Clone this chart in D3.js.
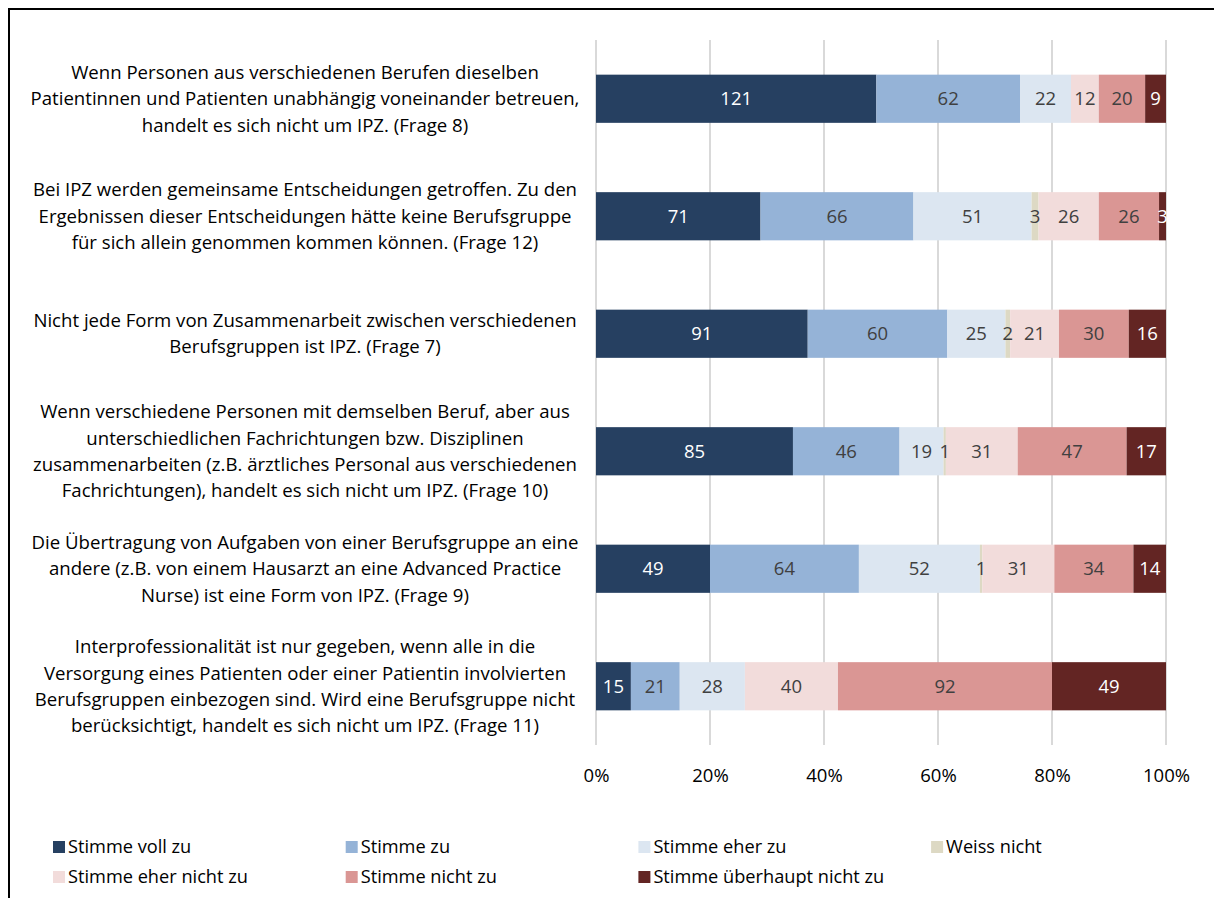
<!DOCTYPE html>
<html>
<head>
<meta charset="utf-8">
<script src="https://cdn.jsdelivr.net/npm/d3@7"></script>
<style>
  body { margin: 0; background: #fff; }
  svg { display: block; font-family: "Open Sans", "Noto Sans", sans-serif; }
</style>
</head>
<body>
<svg></svg>
<script>
// question texts, one array of lines per row (top to bottom)
var categories = [
  ["Wenn Personen aus verschiedenen Berufen dieselben",
   "Patientinnen und Patienten unabhängig voneinander betreuen,",
   "handelt es sich nicht um IPZ. (Frage 8)"],
  ["Bei IPZ werden gemeinsame Entscheidungen getroffen. Zu den",
   "Ergebnissen dieser Entscheidungen hätte keine Berufsgruppe",
   "für sich allein genommen kommen können. (Frage 12)"],
  ["Nicht jede Form von Zusammenarbeit zwischen verschiedenen",
   "Berufsgruppen ist IPZ. (Frage 7)"],
  ["Wenn verschiedene Personen mit demselben Beruf, aber aus",
   "unterschiedlichen Fachrichtungen bzw. Disziplinen",
   "zusammenarbeiten (z.B. ärztliches Personal aus verschiedenen",
   "Fachrichtungen), handelt es sich nicht um IPZ. (Frage 10)"],
  ["Die Übertragung von Aufgaben von einer Berufsgruppe an eine",
   "andere (z.B. von einem Hausarzt an eine Advanced Practice",
   "Nurse) ist eine Form von IPZ. (Frage 9)"],
  ["Interprofessionalität ist nur gegeben, wenn alle in die",
   "Versorgung eines Patienten oder einer Patientin involvierten",
   "Berufsgruppen einbezogen sind. Wird eine Berufsgruppe nicht",
   "berücksichtigt, handelt es sich nicht um IPZ. (Frage 11)"]
];

var seriesNames = ["Stimme voll zu", "Stimme zu", "Stimme eher zu", "Weiss nicht",
                   "Stimme eher nicht zu", "Stimme nicht zu", "Stimme überhaupt nicht zu"];
var seriesColors = ["#264061", "#95b3d7", "#dce6f1", "#ddd9c4", "#f2dcdb", "#da9694", "#632523"];
var labelColors = ["#ffffff", "#404040", "#404040", "#404040", "#404040", "#404040", "#ffffff"];

var stimmeVollZu = [121, 71, 91, 85, 49, 15];
var stimmeZu = [62, 66, 60, 46, 64, 21];
var stimmeEherZu = [22, 51, 25, 19, 52, 28];
var weissNicht = [0, 3, 2, 1, 1, 0];
var stimmeEherNichtZu = [12, 26, 21, 31, 31, 40];
var stimmeNichtZu = [20, 26, 30, 47, 34, 92];
var stimmeUeberhauptNichtZu = [9, 3, 16, 17, 14, 49];

var tickValues = [0, 0.2, 0.4, 0.6, 0.8, 1];

var seriesValues = [stimmeVollZu, stimmeZu, stimmeEherZu, weissNicht,
                    stimmeEherNichtZu, stimmeNichtZu, stimmeUeberhauptNichtZu];

var rows = categories.map(function(c, i) {
  var r = { idx: i };
  seriesNames.forEach(function(s, j) { r[s] = seriesValues[j][i]; });
  return r;
});

var width = 1214, height = 898;
var svg = d3.select("svg").attr("width", width).attr("height", height);

// outer frame (cut off by the window on the right and bottom)
svg.append("rect")
  .attr("x", 9).attr("y", 9)
  .attr("width", 1300).attr("height", 1000)
  .attr("fill", "none")
  .attr("stroke", "#000")
  .attr("stroke-width", 2);

var x = d3.scaleLinear().domain([0, 1]).range([596, 1166]);
var y = d3.scaleBand()
  .domain(d3.range(categories.length))
  .range([40, 745])
  .paddingInner(0.59)
  .paddingOuter(0.295);

// grid
svg.append("g").selectAll("line")
  .data(tickValues)
  .enter().append("line")
    .attr("x1", d => x(d)).attr("x2", d => x(d))
    .attr("y1", 40).attr("y2", 745)
    .attr("stroke", "#d9d9d9")
    .attr("stroke-width", 2);

var xAxis = svg.append("g")
  .attr("transform", "translate(0,745)")
  .call(d3.axisBottom(x).tickValues(tickValues).tickFormat(d3.format(".0%")).tickSize(0).tickPadding(24));
xAxis.select(".domain").remove();
xAxis.selectAll("text")
  .attr("font-family", "'Open Sans', sans-serif")
  .attr("font-size", 18.5)
  .attr("fill", "#000");

var stack = d3.stack().keys(seriesNames).offset(d3.stackOffsetExpand);
var stacked = stack(rows);

var layers = svg.append("g").selectAll("g")
  .data(stacked)
  .enter().append("g")
    .attr("fill", (d, i) => seriesColors[i]);

layers.selectAll("rect")
  .data(d => d)
  .enter().append("rect")
    .attr("x", d => x(d[0]))
    .attr("width", d => x(d[1]) - x(d[0]))
    .attr("y", d => y(d.data.idx))
    .attr("height", y.bandwidth());

var labels = svg.append("g").selectAll("g")
  .data(stacked)
  .enter().append("g")
    .attr("fill", (d, i) => labelColors[i]);

labels.selectAll("text")
  .data(d => d.map(p => { p.key = d.key; return p; }).filter(p => p.data[d.key] > 0))
  .enter().append("text")
    .attr("x", d => (x(d[0]) + x(d[1])) / 2)
    .attr("y", d => y(d.data.idx) + y.bandwidth() / 2)
    .attr("dy", "0.35em")
    .attr("text-anchor", "middle")
    .attr("font-size", 18.5)
    .text(d => d.data[d.key]);

// category labels
var lineH = 26.3;
var catG = svg.append("g").selectAll("text")
  .data(categories)
  .enter().append("text")
    .attr("text-anchor", "middle")
    .attr("font-size", 18.6)
    .attr("fill", "#000")
    .attr("y", (d, i) => y(i) + y.bandwidth() / 2 - (d.length - 1) * lineH / 2);

catG.selectAll("tspan")
  .data(d => d)
  .enter().append("tspan")
    .attr("x", 305)
    .attr("dy", (d, i) => i === 0 ? "0.35em" : lineH)
    .text(d => d);

// legend
var legend = svg.append("g").selectAll("g")
  .data(seriesNames)
  .enter().append("g")
    .attr("transform", (d, i) => "translate(" + (53 + (i % 4) * 292.7) + "," + (847 + Math.floor(i / 4) * 30) + ")");

legend.append("rect")
  .attr("x", 0).attr("y", -6)
  .attr("width", 12).attr("height", 12)
  .attr("fill", (d, i) => seriesColors[i]);

legend.append("text")
  .attr("x", 15)
  .attr("dy", "0.35em")
  .attr("font-size", 18.2)
  .attr("fill", "#000")
  .text(d => d);
</script>
</body>
</html>
